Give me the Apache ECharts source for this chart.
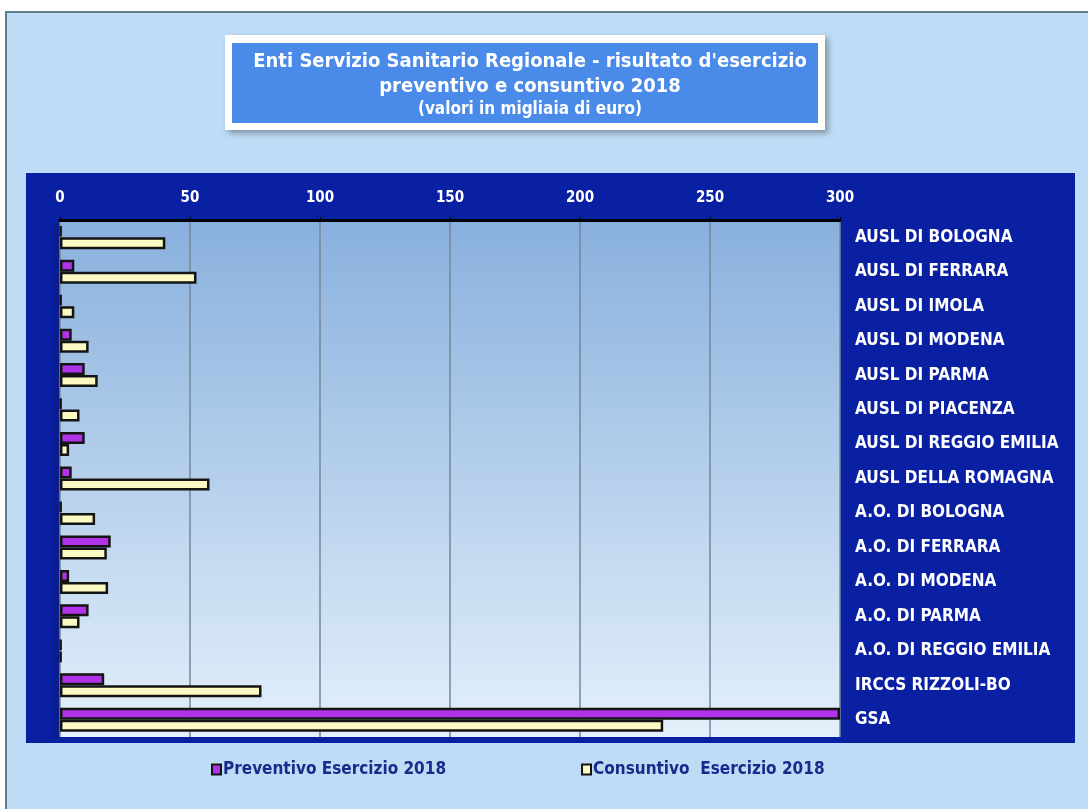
<!DOCTYPE html>
<html>
<head>
<meta charset="utf-8">
<script src="https://cdn.jsdelivr.net/npm/echarts@6/dist/echarts.min.js"></script>
<style>
  html, body { margin: 0; padding: 0; background: #ffffff; }
  #chart { width: 1088px; height: 809px; }
</style>
</head>
<body>
<div id="chart"></div>
<script>
// enti del servizio sanitario regionale
const categories = [
  'AUSL DI BOLOGNA', 'AUSL DI FERRARA', 'AUSL DI IMOLA', 'AUSL DI MODENA',
  'AUSL DI PARMA', 'AUSL DI PIACENZA', 'AUSL DI REGGIO EMILIA', 'AUSL DELLA ROMAGNA',
  'A.O. DI BOLOGNA', 'A.O. DI FERRARA', 'A.O. DI MODENA', 'A.O. DI PARMA',
  'A.O. DI REGGIO EMILIA', 'IRCCS RIZZOLI-BO', 'GSA'
];
// valori in migliaia di euro
const preventivo = [0.5, 5.5, 0.5, 4.5, 9.5, 0.5, 9.5, 4.5, 0.5, 19.5, 3.5, 11, 0.5, 17, 300];
const consuntivo = [40.5, 52.5, 5.5, 11, 14.5, 7.5, 3.5, 57.5, 13.5, 18, 18.5, 7.5, 0.5, 77.5, 232];
const xTicks = { min: 0, max: 300, interval: 50 };

const labelFont = 'DejaVu Sans Condensed';

const chart = echarts.init(document.getElementById('chart'));
chart.setOption({
  animation: false,
  backgroundColor: '#ffffff',
  graphic: [
    // cornice esterna
    { type: 'rect', z: -10, shape: { x: 6, y: 12, width: 1100, height: 820 },
      style: { fill: '#bedcf5', stroke: '#5f7f8f', lineWidth: 2 } },
    // riquadro titolo
    { type: 'rect', z: -9, shape: { x: 225, y: 35, width: 600, height: 95 },
      style: { fill: '#ffffff', shadowBlur: 6, shadowOffsetX: 3, shadowOffsetY: 3, shadowColor: 'rgba(0,0,0,0.35)' } },
    { type: 'rect', z: -8, shape: { x: 232, y: 43, width: 586, height: 80 },
      style: { fill: '#4a8ae8' } },
    // pannello blu scuro
    { type: 'rect', z: -9, shape: { x: 26, y: 173, width: 1049, height: 570 },
      style: { fill: '#0a20a2' } },
    // parete sinistra
    { type: 'rect', z: -7, shape: { x: 53, y: 222, width: 7, height: 516 },
      style: { fill: '#0b1c8e' } }
  ],
  title: {
    left: 525, top: 44, textAlign: 'center',
    text: '{a|Enti Servizio Sanitario Regionale - risultato d\'esercizio}\n{a|preventivo e consuntivo 2018}\n{b|(valori in migliaia di euro)}',
    textStyle: {
      rich: {
        a: { color: '#ffffff', fontFamily: labelFont, fontSize: 20, lineHeight: 25, align: 'center' },
        b: { color: '#ffffff', fontFamily: labelFont, fontSize: 17, fontWeight: 'bold', lineHeight: 22, align: 'center' }
      }
    }
  },
  legend: {
    bottom: 26, left: 206, itemGap: 135,
    itemWidth: 9, itemHeight: 10, icon: 'rect',
    textStyle: { color: '#1a2a8c', fontFamily: labelFont, fontSize: 17, fontWeight: 'bold', padding: [0, 0, 0, -3] },
    data: ['Preventivo Esercizio 2018', 'Consuntivo  Esercizio 2018']
  },
  grid: {
    left: 60, right: 248, top: 220, bottom: 72,
    show: true, borderWidth: 0,
    backgroundColor: {
      type: 'linear', x: 0, y: 0, x2: 0, y2: 1,
      colorStops: [{ offset: 0, color: '#88b0dd' }, { offset: 1, color: '#e4f0fb' }]
    }
  },
  xAxis: {
    type: 'value', position: 'top',
    min: xTicks.min, max: xTicks.max, interval: xTicks.interval,
    axisLine: { show: true, lineStyle: { color: '#000000', width: 3 } },
    axisTick: { show: true, length: 3, lineStyle: { color: '#000000' } },
    axisLabel: { color: '#ffffff', fontFamily: labelFont, fontSize: 15, fontWeight: 'bold', margin: 14 },
    splitLine: { show: true, lineStyle: { color: '#74879a', width: 1.5 } }
  },
  yAxis: {
    type: 'category', position: 'right', inverse: true,
    data: categories,
    axisLine: { show: false },
    axisTick: { show: false },
    axisLabel: { color: '#ffffff', fontFamily: labelFont, fontSize: 17, fontWeight: 'bold', margin: 15, align: 'left' }
  },
  series: [
    {
      name: 'Preventivo Esercizio 2018', type: 'bar',
      data: preventivo, barWidth: 12, barGap: '0%',
      itemStyle: { color: '#b133e9', borderColor: '#141414', borderWidth: 2.5 }
    },
    {
      name: 'Consuntivo  Esercizio 2018', type: 'bar',
      data: consuntivo, barWidth: 12, barGap: '0%',
      itemStyle: { color: '#fbfac2', borderColor: '#141414', borderWidth: 2.5 }
    }
  ]
});
</script>
</body>
</html>
